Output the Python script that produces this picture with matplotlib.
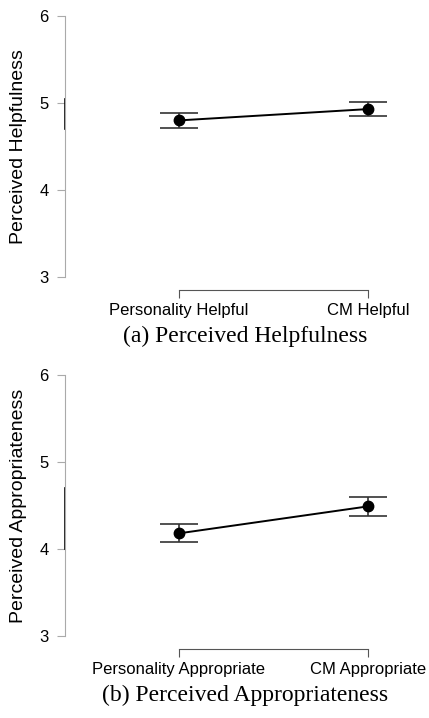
import matplotlib.pyplot as plt

plt.rcParams["font.family"] = ["Liberation Sans", "DejaVu Sans"]

# data
help_labels = ["Personality Helpful", "CM Helpful"]
help_means = [4.80, 4.93]
help_err = [0.085, 0.085]

app_labels = ["Personality Appropriate", "CM Appropriate"]
app_means = [4.18, 4.49]
app_err = [0.105, 0.11]

yticks = [3, 4, 5, 6]

fig = plt.figure(figsize=(4.29, 7.18), dpi=100)

panels = [
    (0.6142, help_labels, help_means, help_err, "Perceived Helpfulness", (4.70, 5.05)),
    (0.1142, app_labels, app_means, app_err, "Perceived Appropriateness", (4.0, 4.70)),
]

for bottom, labels, means, err, ylab, seg in panels:
    ax = fig.add_axes([0.1515, bottom, 0.804, 0.3635])
    xs = list(range(len(labels)))
    ax.errorbar(xs, means, yerr=err, fmt="o-", color="black", ms=7.5, lw=1.4,
                ecolor="#333333", elinewidth=1.2, capsize=13.5, capthick=1.2)
    ax.set_ylim(3, 6)
    ax.set_xlim(-0.603, 1.222)
    ax.set_yticks(yticks)
    ax.set_xticks(xs)
    ax.set_xticklabels(labels)
    for s in ["top", "right"]:
        ax.spines[s].set_visible(False)
    ax.spines["left"].set_bounds(3, 6)
    ax.spines["left"].set_color("#aaaaaa")
    ax.spines["bottom"].set_position(("outward", 9.4))
    ax.spines["bottom"].set_bounds(0, 1)
    ax.spines["bottom"].set_color("#555555")
    ax.tick_params(axis="y", length=5.8, color="#aaaaaa", labelsize=12, pad=6)
    ax.tick_params(axis="x", length=5.5, color="#555555", labelsize=12, pad=4)
    # dark stretch on the y axis line
    ax.plot([-0.603, -0.603], seg, color="black", lw=1.2, clip_on=False)
    ax.set_ylabel(ylab, fontsize=14)
    ax.yaxis.set_label_coords(-0.11, 0.5)

fig.text(0.571, 0.531, "(a) Perceived Helpfulness", ha="center", va="center",
         family="Liberation Serif", fontsize=17)
fig.text(0.571, 0.031, "(b) Perceived Appropriateness", ha="center", va="center",
         family="Liberation Serif", fontsize=17)

fig.savefig("out.png", dpi=100)
